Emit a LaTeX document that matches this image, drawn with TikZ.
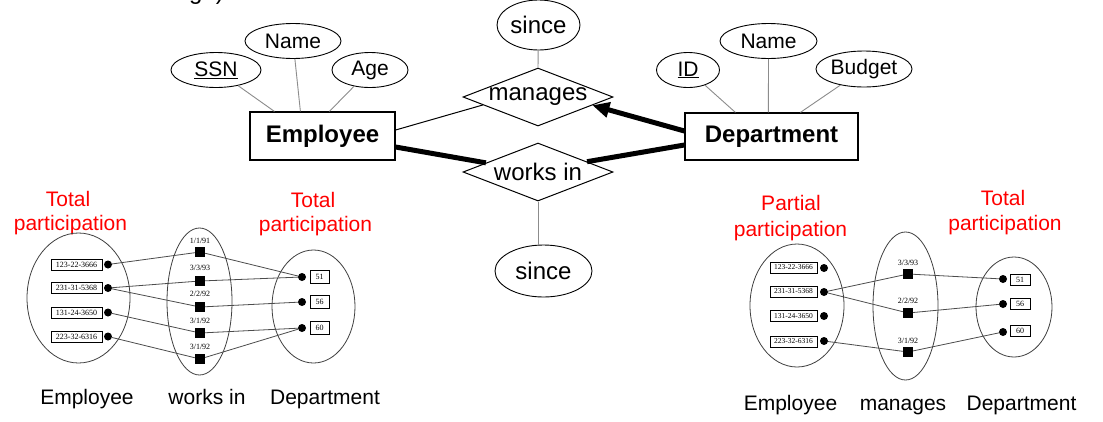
\documentclass[tikz,border=0pt]{standalone}
\usepackage{fontspec}
\setmainfont{Liberation Sans}
\newfontfamily\smallserif{Liberation Serif}
\usetikzlibrary{shapes.geometric,arrows.meta,calc}
\begin{document}
\begin{tikzpicture}[x=1pt,y=-1pt,
  attr/.style={ellipse, draw, line width=0.9pt, inner sep=0pt, font=\fontsize{21}{21}\selectfont},
  entity/.style={rectangle, draw, line width=1.2pt, inner sep=0pt, font=\bfseries\fontsize{24}{24}\selectfont},
  rel/.style={diamond, draw, aspect=2.6, inner sep=0pt, line width=1pt, minimum width=150pt, minimum height=58pt, font=\fontsize{24}{24}\selectfont},
  attrline/.style={draw=black!45, line width=0.9pt},
  heavy/.style={line width=5pt},
  redlbl/.style={text=red, font=\fontsize{21}{21}\selectfont, anchor=base, inner sep=0pt},
  caption/.style={font=\fontsize{21}{21}\selectfont, anchor=base, inner sep=0pt},
  setell/.style={ellipse, draw=black!75, line width=0.8pt, inner sep=0pt},
  valbox/.style={rectangle, draw, line width=0.7pt, inner sep=0pt, font=\smallserif\fontsize{8}{8}\selectfont},
  dotm/.style={circle, fill=black, inner sep=0pt, minimum size=8pt},
  sqm/.style={rectangle, fill=black, inner sep=0pt, minimum size=10pt},
  datelbl/.style={font=\smallserif\fontsize{8}{8}\selectfont, inner sep=0pt},
  link/.style={draw=black!70, line width=0.8pt}
]
\useasboundingbox (0,0) rectangle (1103,421);
\fill[white] (0,0) rectangle (1103,421);

% cut-off text at top
\node[anchor=base west, inner sep=0pt, font=\fontsize{24}{24}\selectfont] (topfrag) at (189,-1) {ge)};

% ---- main ER diagram ----
\node[entity, minimum width=145pt, minimum height=48pt] (emp) at (322.5,136) {Employee};
\node[entity, minimum width=173pt, minimum height=47pt] (dpt) at (771.5,136.5) {Department};

\node[attr, minimum width=90pt, minimum height=35pt] (ssn) at (216,70) {\underline{SSN}};
\node[attr, minimum width=96pt, minimum height=35pt] (ename) at (293,41) {Name};
\node[attr, minimum width=76pt, minimum height=35pt] (age) at (370,70) {Age};

\node[attr, minimum width=63pt, minimum height=35pt] (did) at (688,70) {\underline{ID}};
\node[attr, minimum width=97pt, minimum height=35pt] (dname) at (768.5,41) {Name};
\node[attr, minimum width=96pt, minimum height=36pt] (budget) at (864,69) {Budget};

\node[rel] (man) at (538,97) {manages};
\node[rel] (wi) at (538,172) {works in};

\node[attr, minimum width=83pt, minimum height=50pt, font=\fontsize{24}{24}\selectfont] (sinceT) at (538.5,25) {since};
\node[attr, minimum width=97pt, minimum height=52pt, font=\fontsize{24}{24}\selectfont] (sinceB) at (543.5,271) {since};

\draw[attrline] (ssn) -- ($(emp.north west)+(25,0)$);
\draw[attrline] (ename) -- ($(emp.north west)+(51,0)$);
\draw[attrline] (age) -- ($(emp.north west)+(80,0)$);
\draw[attrline] (did) -- ($(dpt.north west)+(51,0)$);
\draw[attrline] (dname) -- ($(dpt.north west)+(84,0)$);
\draw[attrline] (budget) -- ($(dpt.north west)+(116,0)$);
\draw[attrline] (sinceT) -- (man.north);
\draw[attrline] (wi.south) -- (wi.south |- sinceB.north);

\coordinate (empA) at ($(emp.east)+(0,-6)$);
\coordinate (empB) at ($(emp.east)+(0,11)$);
\coordinate (dptA) at ($(dpt.west)+(0,-5.5)$);
\coordinate (dptB) at ($(dpt.west)+(0,8.5)$);
\draw[line width=1pt] (empA) -- ($(man.west)!0.27!(man.south)$);
\draw[heavy, -{Triangle[length=17pt,width=15pt]}] (dptA) -- ($(man.east)!0.28!(man.south)$);
\draw[heavy] (empB) -- ($(wi.west)!0.31!(wi.north)$);
\draw[heavy] (dptB) -- ($(wi.east)!0.35!(wi.north)$);

% ---- red labels ----
\node[redlbl] (l1a) at (68,206) {Total};
\node[redlbl] (l1b) at (70.5,230) {participation};
\node[redlbl] (l2a) at (313,207) {Total};
\node[redlbl] (l2b) at (315.5,231) {participation};
\node[redlbl] (l3a) at (791,210) {Partial};
\node[redlbl] (l3b) at (790.5,236) {participation};
\node[redlbl] (l4a) at (1003,205) {Total};
\node[redlbl] (l4b) at (1005,230) {participation};

% ---- left instance diagram (works in) ----
\node[setell, minimum width=103pt, minimum height=130pt] (le1) at (78.5,298) {};
\node[setell, minimum width=65pt, minimum height=147pt] (le2) at (199.5,301.5) {};
\node[setell, minimum width=83pt, minimum height=113pt] (le3) at (313.5,306.5) {};

\node[valbox, minimum width=51pt, minimum height=11pt] (lb1) at (76.5,264.5) {123-22-3666};
\node[valbox, minimum width=51pt, minimum height=11pt] (lb2) at (76.5,288) {231-31-5368};
\node[valbox, minimum width=51pt, minimum height=11pt] (lb3) at (76.5,312.5) {131-24-3650};
\node[valbox, minimum width=51pt, minimum height=11pt] (lb4) at (76.5,336.5) {223-32-6316};
\node[dotm] (ld1) at (108,264.5) {};
\node[dotm] (ld2) at (108,288) {};
\node[dotm] (ld3) at (108,312.5) {};
\node[dotm] (ld4) at (108,336.5) {};

\node[sqm] (ls1) at (200,252) {};
\node[sqm] (ls2) at (200,281) {};
\node[sqm] (ls3) at (200,307) {};
\node[sqm] (ls4) at (200,333) {};
\node[sqm] (ls5) at (200,359) {};
\node[datelbl] (lt1) at (200,241) {1/1/91};
\node[datelbl] (lt2) at (200,268) {3/3/93};
\node[datelbl] (lt3) at (200,294) {2/2/92};
\node[datelbl] (lt4) at (200,321) {3/1/92};
\node[datelbl] (lt5) at (200,347) {3/1/92};

\node[dotm] (lr1) at (302,277) {};
\node[dotm] (lr2) at (302,302) {};
\node[dotm] (lr3) at (302,328) {};
\node[valbox, minimum width=19pt, minimum height=13pt] (lv1) at (319.5,276.5) {51};
\node[valbox, minimum width=19pt, minimum height=13pt] (lv2) at (319.5,302) {56};
\node[valbox, minimum width=19pt, minimum height=13pt] (lv3) at (319.5,328) {60};

\draw[link] (ld1) -- (ls1); \draw[link] (ls1) -- (lr1);
\draw[link] (ld2) -- (ls2); \draw[link] (ls2) -- (lr1);
\draw[link] (ld2) -- (ls3); \draw[link] (ls3) -- (lr2);
\draw[link] (ld3) -- (ls4); \draw[link] (ls4) -- (lr3);
\draw[link] (ld4) -- (ls5); \draw[link] (ls5) -- (lr3);

\node[caption] (lc1) at (87,404) {Employee};
\node[caption] (lc2) at (207,404) {works in};
\node[caption] (lc3) at (325,404) {Department};

% ---- right instance diagram (manages) ----
\node[setell, minimum width=94pt, minimum height=123pt] (re1) at (797,305.5) {};
\node[setell, minimum width=65pt, minimum height=148pt] (re2) at (905.5,306) {};
\node[setell, minimum width=76pt, minimum height=100pt] (re3) at (1014,307) {};

\node[valbox, minimum width=47pt, minimum height=11pt, font=\smallserif\fontsize{7.5}{7.5}\selectfont] (rb1) at (793.5,267.5) {123-22-3666};
\node[valbox, minimum width=47pt, minimum height=11pt, font=\smallserif\fontsize{7.5}{7.5}\selectfont] (rb2) at (793.5,291.5) {231-31-5368};
\node[valbox, minimum width=47pt, minimum height=11pt, font=\smallserif\fontsize{7.5}{7.5}\selectfont] (rb3) at (793.5,316) {131-24-3650};
\node[valbox, minimum width=47pt, minimum height=11pt, font=\smallserif\fontsize{7.5}{7.5}\selectfont] (rb4) at (793.5,341.5) {223-32-6316};
\node[dotm] (rd1) at (824,268) {};
\node[dotm] (rd2) at (824,292) {};
\node[dotm] (rd3) at (824,316) {};
\node[dotm] (rd4) at (824,341) {};

\node[sqm] (rs1) at (908,274) {};
\node[sqm] (rs2) at (908,313) {};
\node[sqm] (rs3) at (908,352) {};
\node[datelbl] (rt1) at (908,263) {3/3/93};
\node[datelbl] (rt2) at (908,301) {2/2/92};
\node[datelbl] (rt3) at (908,341) {3/1/92};

\node[dotm] (rr1) at (1003,279) {};
\node[dotm] (rr2) at (1003,304) {};
\node[dotm] (rr3) at (1003,332) {};
\node[valbox, minimum width=20pt, minimum height=11pt] (rv1) at (1020,279.5) {51};
\node[valbox, minimum width=20pt, minimum height=11pt] (rv2) at (1020,304) {56};
\node[valbox, minimum width=20pt, minimum height=11pt] (rv3) at (1020,331) {60};

\draw[link] (rd2) -- (rs1); \draw[link] (rs1) -- (rr1);
\draw[link] (rd2) -- (rs2); \draw[link] (rs2) -- (rr2);
\draw[link] (rd4) -- (rs3); \draw[link] (rs3) -- (rr3);

\node[caption] (rc1) at (790.5,410) {Employee};
\node[caption] (rc2) at (903,410) {manages};
\node[caption] (rc3) at (1021.5,410) {Department};
\end{tikzpicture}
\end{document}
